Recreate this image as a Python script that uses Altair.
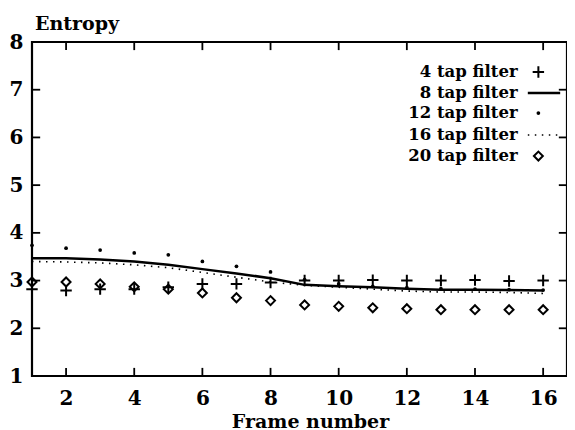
import altair as alt
import pandas as pd

frames = list(range(1, 17))
tap4 = [2.82, 2.79, 2.82, 2.82, 2.86, 2.93, 2.93, 2.96, 3.00, 3.00, 3.01, 3.00, 3.00, 3.01, 2.99, 3.00]
tap8 = [3.47, 3.47, 3.44, 3.40, 3.33, 3.24, 3.15, 3.05, 2.91, 2.88, 2.86, 2.83, 2.81, 2.81, 2.80, 2.79]
tap12 = [3.74, 3.68, 3.64, 3.58, 3.54, 3.40, 3.30, 3.18, 3.02, 2.93, 2.88, 2.85, 2.83, 2.82, 2.81, 2.80]
tap16 = [3.40, 3.39, 3.37, 3.33, 3.27, 3.17, 3.07, 2.97, 2.90, 2.86, 2.82, 2.78, 2.76, 2.76, 2.75, 2.73]
tap20 = [2.97, 2.97, 2.93, 2.87, 2.82, 2.74, 2.64, 2.58, 2.49, 2.46, 2.43, 2.41, 2.39, 2.39, 2.39, 2.39]

x_ticks = [2, 4, 6, 8, 10, 12, 14, 16]
y_ticks = [1, 2, 3, 4, 5, 6, 7, 8]
x_domain = [1, 16.7]
y_domain = [1, 8]

legend_labels = ["4 tap filter", "8 tap filter", "12 tap filter", "16 tap filter", "20 tap filter"]
legend_y = [7.37, 6.93, 6.51, 6.05, 5.61]
legend_text_x = 15.25
legend_sym_x = 15.86
legend_line_x = [15.55, 16.5]

FONT = "DejaVu Serif"

xs = alt.Scale(domain=x_domain, nice=False, zero=False)
ys = alt.Scale(domain=y_domain, nice=False, zero=False)

df = pd.DataFrame({"frame": frames, "t4": tap4, "t8": tap8, "t12": tap12, "t16": tap16, "t20": tap20})

X = alt.X("frame:Q", scale=xs,
          axis=alt.Axis(values=x_ticks, title="Frame number", labelFont=FONT, labelFontSize=20,
                        labelFontWeight="bold", labelPadding=12, titleFont=FONT, titleFontSize=19,
                        titleFontWeight="bold", titlePadding=4, labelColor="black", titleColor="black",
                        titleX=278))

def Y(field):
    return alt.Y(field, scale=ys,
                 axis=alt.Axis(values=y_ticks, title=None, labelFont=FONT, labelFontSize=20,
                               labelFontWeight="bold", labelPadding=9, labelColor="black"))

base = alt.Chart(df)

line8 = base.mark_line(color="black", strokeWidth=2.5).encode(x=X, y=Y("t8:Q"))
line16 = base.mark_line(color="black", strokeWidth=1.6, strokeDash=[1.5, 5.5]).encode(x=X, y=Y("t16:Q"))
plus4 = base.mark_point(shape="M-1,0H1M0,-1V1", size=130, strokeWidth=2, color="black",
                        filled=False, opacity=1).encode(x=X, y=Y("t4:Q"))
dot12 = base.mark_circle(size=14, color="black", opacity=1).encode(x=X, y=Y("t12:Q"))
dia20 = base.mark_point(shape="diamond", size=80, strokeWidth=2, color="black",
                        filled=False, opacity=1).encode(x=X, y=Y("t20:Q"))

# inward ticks on all four sides, one table of segments
tick_len_y = 0.17
tick_len_x = 0.24
rows = []
for t in x_ticks:
    rows.append({"tx": t, "tx2": t, "ty": y_domain[0], "ty2": y_domain[0] + tick_len_y})
    rows.append({"tx": t, "tx2": t, "ty": y_domain[1], "ty2": y_domain[1] - tick_len_y})
for t in y_ticks[1:-1]:
    rows.append({"tx": x_domain[0], "tx2": x_domain[0] + tick_len_x, "ty": t, "ty2": t})
    rows.append({"tx": x_domain[1], "tx2": x_domain[1] - tick_len_x, "ty": t, "ty2": t})
tick_df = pd.DataFrame(rows)
ticks = alt.Chart(tick_df).mark_rule(color="black", strokeWidth=1.8).encode(
    x=alt.X("tx:Q", scale=xs), x2=alt.X2("tx2:Q"), y=alt.Y("ty:Q", scale=ys), y2=alt.Y2("ty2:Q"))

# legend
leg = pd.DataFrame({"label": legend_labels, "y": legend_y, "x": [legend_text_x] * 5, "sx": [legend_sym_x] * 5})
leg_text = alt.Chart(leg).mark_text(align="right", baseline="middle", font=FONT, fontSize=16.5,
                                    fontWeight="bold", color="black").encode(
    x=alt.X("x:Q", scale=xs), y=alt.Y("y:Q", scale=ys), text="label:N")
leg_plus = alt.Chart(leg.iloc[[0]]).mark_point(shape="M-1,0H1M0,-1V1", size=130, strokeWidth=2,
                                               color="black", filled=False, opacity=1).encode(
    x=alt.X("sx:Q", scale=xs), y=alt.Y("y:Q", scale=ys))
leg_dot = alt.Chart(leg.iloc[[2]]).mark_circle(size=14, color="black", opacity=1).encode(
    x=alt.X("sx:Q", scale=xs), y=alt.Y("y:Q", scale=ys))
leg_dia = alt.Chart(leg.iloc[[4]]).mark_point(shape="diamond", size=80, strokeWidth=2, color="black",
                                              filled=False, opacity=1).encode(
    x=alt.X("sx:Q", scale=xs), y=alt.Y("y:Q", scale=ys))
ll = pd.DataFrame({"x": legend_line_x, "y8": [legend_y[1]] * 2, "y16": [legend_y[3]] * 2})
leg_line8 = alt.Chart(ll).mark_line(color="black", strokeWidth=2.5).encode(
    x=alt.X("x:Q", scale=xs), y=alt.Y("y8:Q", scale=ys))
leg_line16 = alt.Chart(ll).mark_line(color="black", strokeWidth=1.6, strokeDash=[1.5, 5.5]).encode(
    x=alt.X("x:Q", scale=xs), y=alt.Y("y16:Q", scale=ys))

chart = alt.layer(
    line16, line8, dot12, plus4, dia20,
    leg_text, leg_plus, leg_line8, leg_dot, leg_line16, leg_dia, ticks,
).properties(
    width=535, height=334,
    title=alt.Title("Entropy", anchor="start", frame="group", font=FONT, fontSize=19,
                    fontWeight="bold", color="black", offset=0, dx=3, dy=2),
    autosize=alt.AutoSizeParams(type="none"),
    padding={"left": 24, "top": 34, "right": 0, "bottom": 54},
).configure_view(
    stroke="black", strokeWidth=2.2
).configure_axis(
    grid=False, domain=False, ticks=False
)

chart.save("out.html", embed_options={"renderer": "svg", "actions": False})
